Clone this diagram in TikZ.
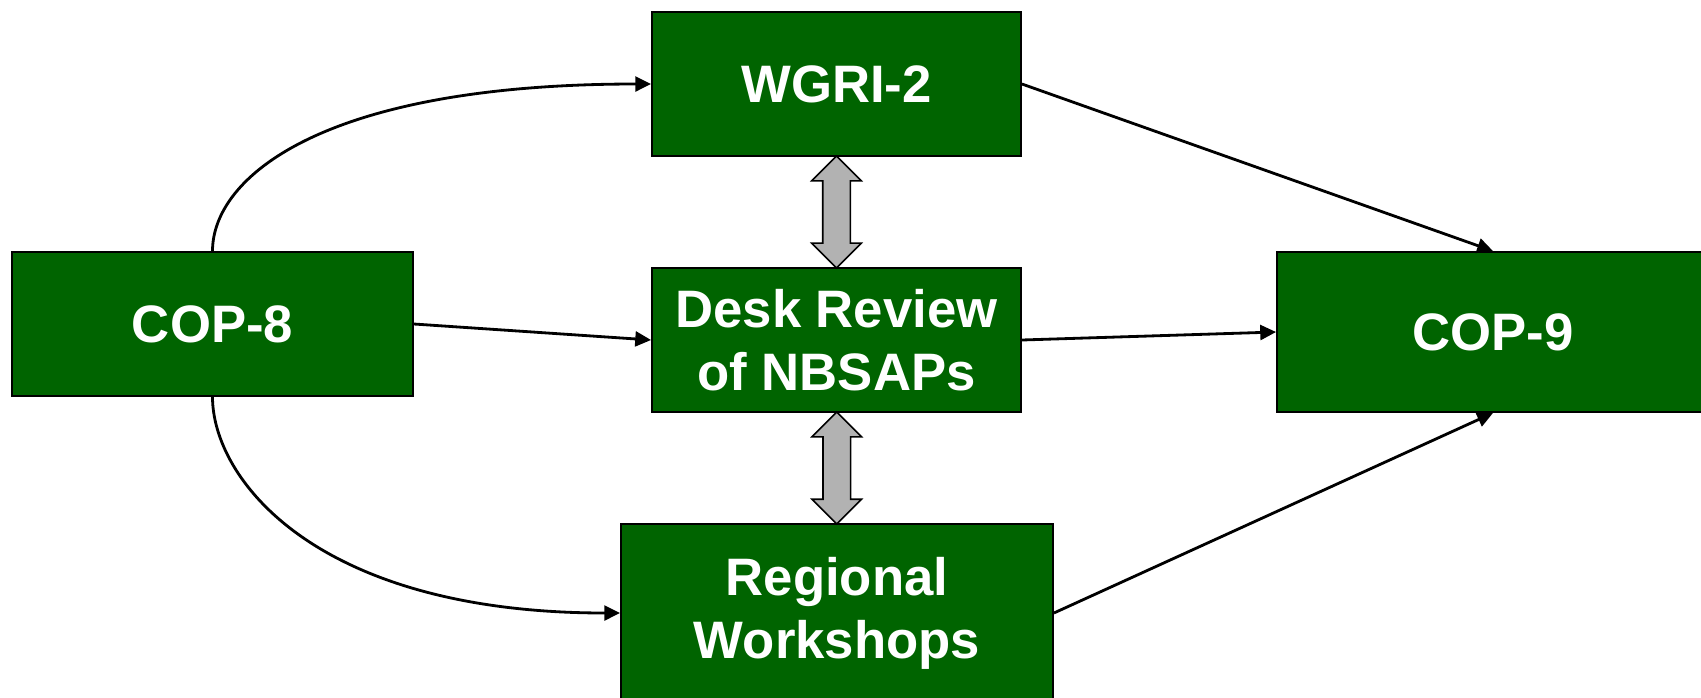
\documentclass[tikz,border=0pt]{standalone}
\usepackage{fontspec}
\setmainfont{Liberation Sans}
\usetikzlibrary{arrows.meta,shapes.arrows}
\definecolor{boxgreen}{RGB}{0,100,0}
\definecolor{linkgray}{RGB}{178,178,178}
\tikzset{
  stage/.style={draw, fill=boxgreen, text=white, font=\bfseries\fontsize{30}{36}\selectfont,
    align=center, inner sep=0pt, line width=1.1pt},
  flow/.style={line width=1.6pt, -{Triangle[length=9pt,width=8.5pt]}},
  link/.style={draw, fill=linkgray, double arrow, rotate=90, inner xsep=0pt, inner ysep=0.26cm,
    line width=0.9pt, double arrow head extend=0.22cm}
}
\begin{document}
\begin{tikzpicture}[x=0.02cm, y=0.02cm]
      \useasboundingbox (0,0) rectangle (1701,-697);
      \node[stage, minimum width=8.02cm, minimum height=2.88cm] (cop8) at (212.5,-324) {COP-8};
      \node[stage, minimum width=7.38cm, minimum height=2.88cm] (wgri) at (836.5,-84) {WGRI-2};
      \node[stage, minimum width=7.38cm, minimum height=2.88cm] (desk) at (836.5,-340) {Desk Review\\of NBSAPs};
      \node[stage, minimum width=8.64cm, minimum height=3.56cm] (regional) at (837,-613) {Regional\\Workshops};
      \node[stage, minimum width=8.64cm, minimum height=3.2cm] (cop9) at (1493,-332) {COP-9};

      \draw[flow] (cop8.north) to[out=90, in=180, out looseness=0.4, in looseness=1.8] (wgri.west);
      \draw[flow] (cop8.east) -- (desk.west);
      \draw[flow] (cop8.south) to[out=-90, in=180, out looseness=0.45, in looseness=1.7] (regional.west);
      \draw[flow] (wgri.east) -- (cop9.north);
      \draw[flow] (desk.east) -- (cop9.west);
      \draw[flow] (regional.east) -- (cop9.south);

      \path (wgri.south) -- (desk.north) node[link, midway, minimum height=2.24cm] (linkup) {};
      \path (desk.south) -- (regional.north) node[link, midway, minimum height=2.24cm] (linkdown) {};
    \end{tikzpicture}
\end{document}
